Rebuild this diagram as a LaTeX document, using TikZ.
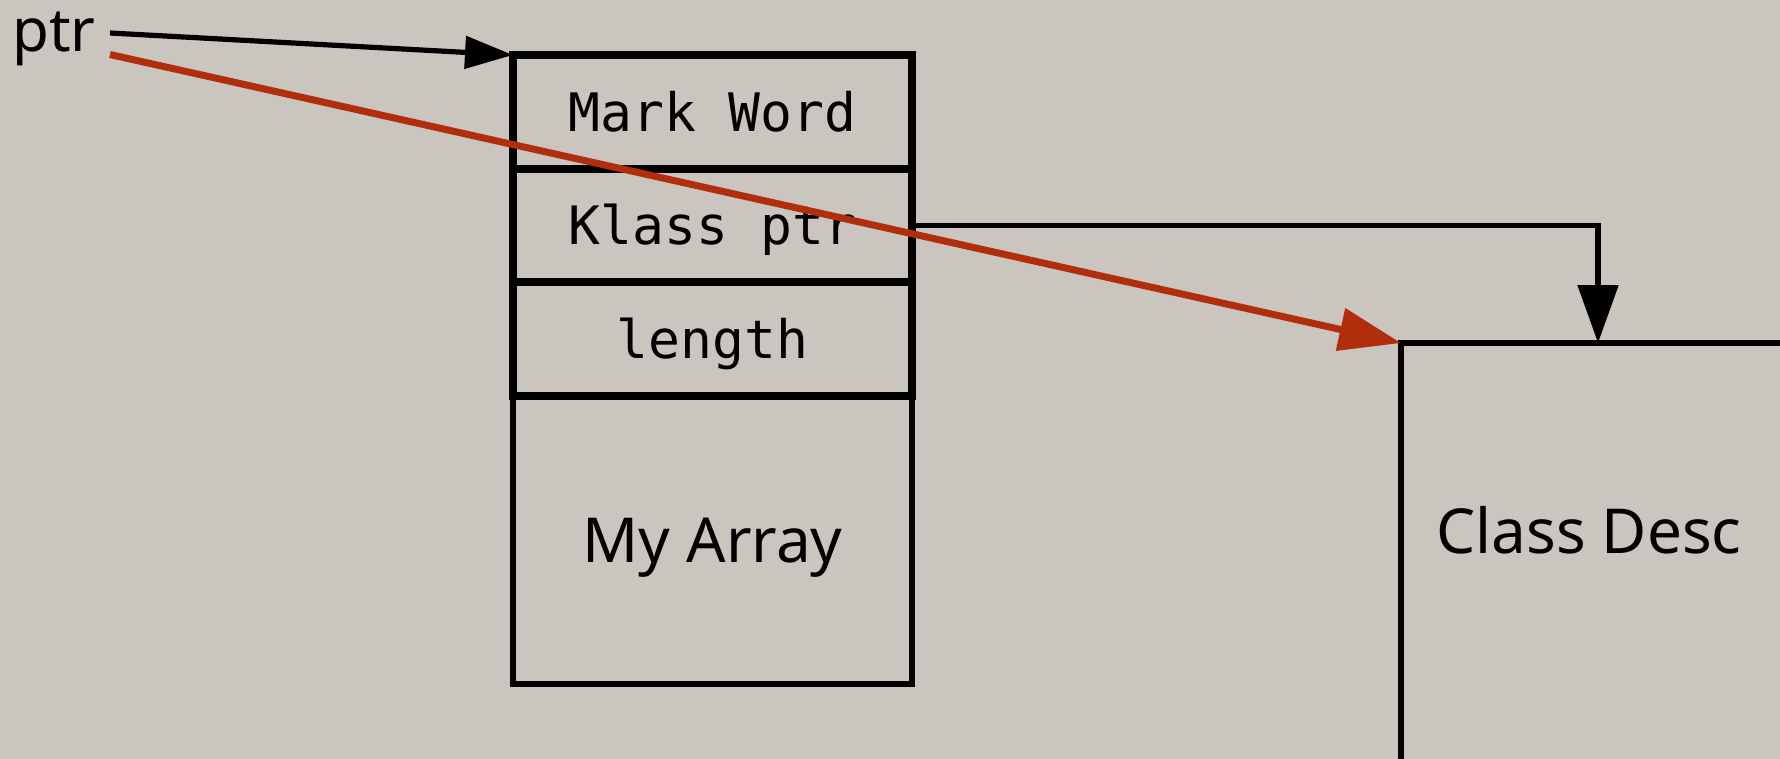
\documentclass[tikz,border=0pt]{standalone}
\usepackage{fontspec}
\setmainfont{Noto Sans}
\newfontfamily\monof{DejaVu Sans Mono}
\usetikzlibrary{arrows.meta,calc}
\definecolor{bgc}{RGB}{202,197,191}
\definecolor{redc}{RGB}{176,46,12}
\begin{document}
\begin{tikzpicture}[x=0.5pt,y=-0.5pt,
  cell/.style={draw, line width=3.8pt, minimum width=199.5pt, inner sep=0pt, outer sep=0pt, text height=19.2pt, text depth=0pt},
  mono/.style={font=\monof\fontsize{26.5pt}{30pt}\selectfont},
  sansbig/.style={font=\fontsize{31pt}{36pt}\selectfont},
  conn/.style={line width=2.6pt},
  bigtip/.style={-{Triangle[length=29pt,width=20pt]}},
  redtip/.style={-{Triangle[length=31pt,width=21pt]}}]
\fill[bgc] (0,0) rectangle (1780,759);
\useasboundingbox (0,0) rectangle (1780,759);
\clip (0,0) rectangle (1780,759);
% array object
\node[cell, mono, minimum height=57pt, anchor=north west] (c1) at (513,55) {Mark Word};
\node[cell, mono, minimum height=56.5pt, anchor=north] (c2) at (c1.south) {Klass ptr};
\node[cell, mono, minimum height=57pt, anchor=north] (c3) at (c2.south) {length};
\node[cell, line width=2.6pt, sansbig, text height=22.1pt, minimum height=144pt, anchor=north] (c4) at (c3.south) {My Array};
% class descriptor
\node[draw, line width=2.6pt, minimum width=250pt, minimum height=250pt, inner sep=0pt, outer sep=0pt, anchor=north west] (cls) at (1401,343) {};
\node[sansbig, anchor=base, inner sep=0pt] (clsl) at (1589,553) {Class Desc};
% pointer
\node[font=\fontsize{30pt}{34pt}\selectfont, anchor=base west, inner sep=0pt] (ptr) at (12,52) {ptr};
\coordinate (ps1) at (110,33);
\coordinate (ps2) at (110,54.5);
\draw[conn, -{Triangle[length=24pt,width=16pt]}] (ps1) -- (c1.north west);
\draw[conn, bigtip] (c2.east) -| ($(cls.north west)+(197,0)$);
\draw[redc, line width=3.5pt, redtip] (ps2) -- (cls.north west);
\end{tikzpicture}
\end{document}
